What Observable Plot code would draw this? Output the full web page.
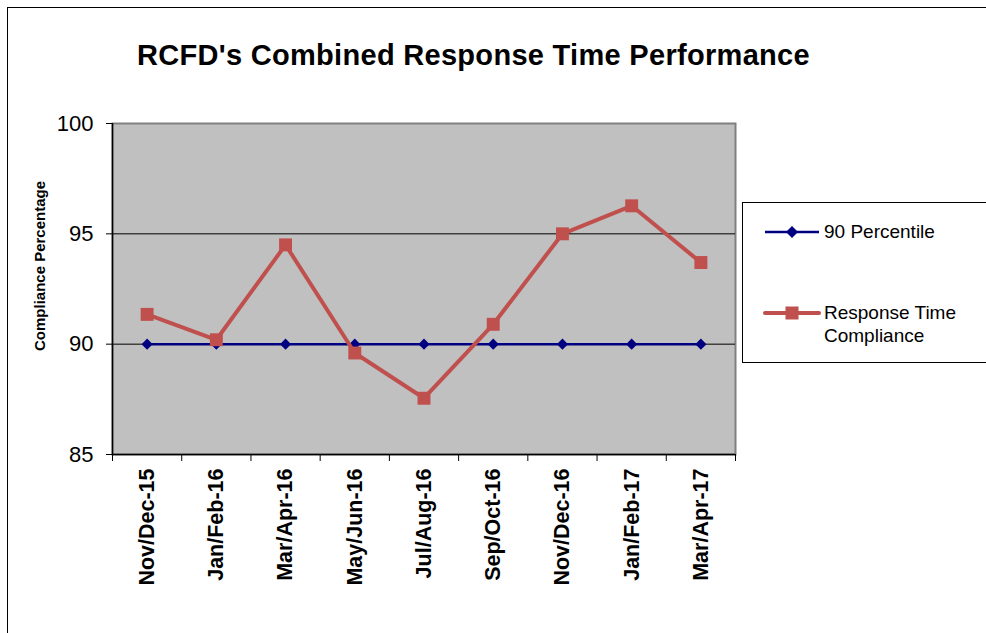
<!DOCTYPE html>
<html>
<head>
<meta charset="utf-8">
<script src="https://cdn.jsdelivr.net/npm/d3@7"></script>
<script src="https://cdn.jsdelivr.net/npm/@observablehq/plot@0.6"></script>
<style>
  html, body { margin: 0; padding: 0; background: #fff; }
  body { width: 986px; height: 633px; overflow: hidden; position: relative; font-family: "Liberation Sans", Arial, sans-serif; }
  #outer { position: absolute; left: 7px; top: 7px; width: 1200px; height: 800px; border-left: 1px solid #000; border-top: 1px solid #000; }
  #title { position: absolute; left: 137px; top: 41px; font-size: 29px; line-height: 28px; letter-spacing: 0.3px; font-weight: bold; white-space: nowrap; color: #000; }
  #chart { position: absolute; left: 0; top: 0; }
  #legend { position: absolute; left: 742px; top: 202px; width: 300px; height: 159px; border: 1px solid #000; background: #fff; font-size: 19px; color: #000; }
  .entry { position: absolute; left: 20px; display: flex; align-items: flex-start; }
  .entry svg { display: block; }
  .entry span { line-height: 23px; margin-left: 3px; }
</style>
</head>
<body>
<div id="outer"></div>
<div id="chart"></div>
<div id="title">RCFD's Combined Response Time Performance</div>
<div id="legend">
  <div class="entry" style="top:17px">
    <svg width="58" height="23"><line x1="2" x2="56" y1="12" y2="12" stroke="#000080" stroke-width="2.5"/><path d="M29,6 L35,12 L29,18 L23,12 Z" fill="#000080"/></svg>
    <span>90 Percentile</span>
  </div>
  <div class="entry" style="top:98px">
    <svg width="58" height="23"><line x1="2" x2="56" y1="12" y2="12" stroke="#C0504D" stroke-width="4" stroke-linecap="round"/><rect x="22.5" y="5.5" width="13" height="13" fill="#C0504D"/></svg>
    <span>Response Time<br>Compliance</span>
  </div>
</div>
<script>
const categories = ["Nov/Dec-15","Jan/Feb-16","Mar/Apr-16","May/Jun-16","Jul/Aug-16","Sep/Oct-16","Nov/Dec-16","Jan/Feb-17","Mar/Apr-17"];
const percentile90 = [90, 90, 90, 90, 90, 90, 90, 90, 90];
const responseCompliance = [91.35, 90.2, 94.5, 89.6, 87.55, 90.9, 95.0, 96.27, 93.7];
const yTicks = [85, 90, 95, 100];
const gridValues = [90, 95];
const yLabel = "Compliance Percentage";

const idx = categories.map((_, i) => i);
const boundaries = d3.range(categories.length + 1).map(i => i - 0.5);
const pData = idx.map(i => ({i, v: percentile90[i]}));
const rData = idx.map(i => ({i, v: responseCompliance[i]}));

const chart = Plot.plot({
  width: 986,
  height: 633,
  marginLeft: 112,
  marginRight: 251,
  marginTop: 123,
  marginBottom: 179,
  style: {fontFamily: "'Liberation Sans', Arial, sans-serif", background: "transparent", color: "#000"},
  x: {type: "linear", domain: [-0.5, categories.length - 0.5]},
  y: {domain: [85, 100]},
  marks: [
    Plot.frame({fill: "#c0c0c0"}),
    Plot.frame({stroke: "#808080", strokeWidth: 2}),
    Plot.ruleY(gridValues, {stroke: "#000", strokeWidth: 1}),
    Plot.ruleX([-0.5], {stroke: "#000", strokeWidth: 1.5}),
    Plot.ruleY([85], {stroke: "#000", strokeWidth: 1.5}),
    Plot.axisY({ticks: yTicks, tickSize: 6, tickPadding: 13, fontSize: 22, label: null, stroke: "#000", strokeOpacity: 1}),
    Plot.axisX({ticks: boundaries, tickSize: 7, tickFormat: () => "", label: null, stroke: "#000", strokeOpacity: 1}),
    Plot.axisX({ticks: idx, tickSize: 0, tickPadding: 14, tickRotate: -90, tickFormat: i => categories[i], fontSize: 21.5, fontWeight: "bold", label: null}),
    Plot.text([yLabel], {frameAnchor: "left", textAnchor: "middle", dx: -72, dy: -23, rotate: -90, fontSize: 15, fontWeight: "bold", fill: "#000"}),
    Plot.line(pData, {x: "i", y: "v", stroke: "#000080", strokeWidth: 2.5}),
    Plot.dot(pData, {x: "i", y: "v", symbol: "diamond2", r: 5, fill: "#000080", stroke: "none"}),
    Plot.line(rData, {x: "i", y: "v", stroke: "#C0504D", strokeWidth: 4}),
    Plot.dot(rData, {x: "i", y: "v", symbol: "square", r: 7.3, fill: "#C0504D", stroke: "none"})
  ]
});
document.getElementById("chart").appendChild(chart);
</script>
</body>
</html>
